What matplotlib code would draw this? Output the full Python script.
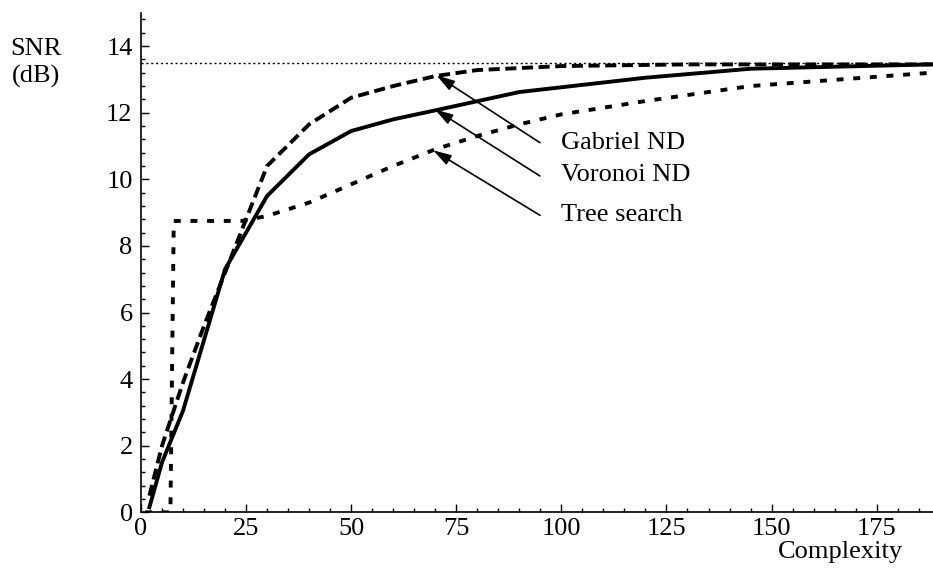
import matplotlib
matplotlib.use("Agg")
import matplotlib.pyplot as plt
from matplotlib.ticker import MultipleLocator

plt.rcParams['font.family'] = ['Liberation Serif', 'DejaVu Serif']
plt.rcParams['font.size'] = 19
plt.rcParams['lines.scale_dashes'] = False

# Voronoi ND (solid)
voronoi_x = [2, 5, 10, 20, 30, 40, 50, 60, 70, 90, 120, 145, 188]
voronoi_y = [0.15, 1.5, 3.05, 7.3, 9.5, 10.75, 11.45, 11.8, 12.07, 12.62, 13.05, 13.32, 13.45]

# Gabriel ND (long dash)
gabriel_x = [2, 5, 10, 15, 20, 30, 40, 50, 60, 70, 80, 100, 130, 188]
gabriel_y = [0.5, 2.0, 3.9, 5.6, 7.2, 10.4, 11.65, 12.45, 12.8, 13.1, 13.28, 13.4, 13.45, 13.45]

# Tree search (short dash)
tree_x = [1, 7, 7.8, 24, 30, 40, 50, 60, 70, 80, 90, 100, 120, 145, 188]
tree_y = [0, 0, 8.75, 8.75, 8.9, 9.3, 9.85, 10.4, 10.9, 11.3, 11.65, 11.95, 12.35, 12.8, 13.2]

snr_limit = 13.49

labels = ['Gabriel ND', 'Voronoi ND', 'Tree search']
arrow_heads = [(70.3, 13.12), (69.9, 12.1), (69.5, 10.87)]
arrow_tails = [(94.9, 11.1), (94.9, 10.1), (94.9, 8.92)]
label_y = [11.08, 10.12, 8.92]

fig = plt.figure(figsize=(9.33, 5.81), dpi=100)
ax = fig.add_axes([0.1511, 0.1182, 0.8489, 0.8598])

# asymptote
ax.axhline(snr_limit, color='black', lw=1.0, dashes=(1.5, 2.0))
ax.plot(voronoi_x, voronoi_y, color='black', lw=2.8, solid_joinstyle='miter')
ax.plot(gabriel_x, gabriel_y, color='black', lw=2.8, dashes=(8, 4))
ax.plot(tree_x, tree_y, color='black', lw=2.8, dashes=(5, 7))

for lab, head, tail, ty in zip(labels, arrow_heads, arrow_tails, label_y):
    ax.annotate('', xy=head, xytext=tail,
                arrowprops=dict(arrowstyle='-|>,head_length=0.5,head_width=0.15',
                                color='black', lw=1.2,
                                mutation_scale=22, shrinkA=0, shrinkB=0))
    ax.text(100, ty, lab, ha='left', va='center')

ax.set_xlim(0, 188.4)
ax.set_ylim(0, 15)
ax.xaxis.set_major_locator(MultipleLocator(25))
ax.xaxis.set_minor_locator(MultipleLocator(5))
ax.yaxis.set_major_locator(MultipleLocator(2))
ax.yaxis.set_minor_locator(MultipleLocator(0.4))
ax.tick_params(which='both', direction='in', width=1.0)
ax.tick_params(which='major', length=6)
ax.tick_params(which='minor', length=3)
ax.tick_params(axis='x', which='major', pad=4)
ax.tick_params(axis='y', which='major', pad=6)

for side in ['top', 'right']:
    ax.spines[side].set_visible(False)
ax.spines['left'].set_linewidth(1.2)
ax.spines['bottom'].set_linewidth(1.2)

fig.text(36 / 933, 1 - 63 / 581, 'SNR\n(dB)', ha='center', va='center', linespacing=1.25)
fig.text(840 / 933, 1 - 552 / 581, 'Complexity', ha='center', va='center')

fig.savefig('out.png', dpi=100)
